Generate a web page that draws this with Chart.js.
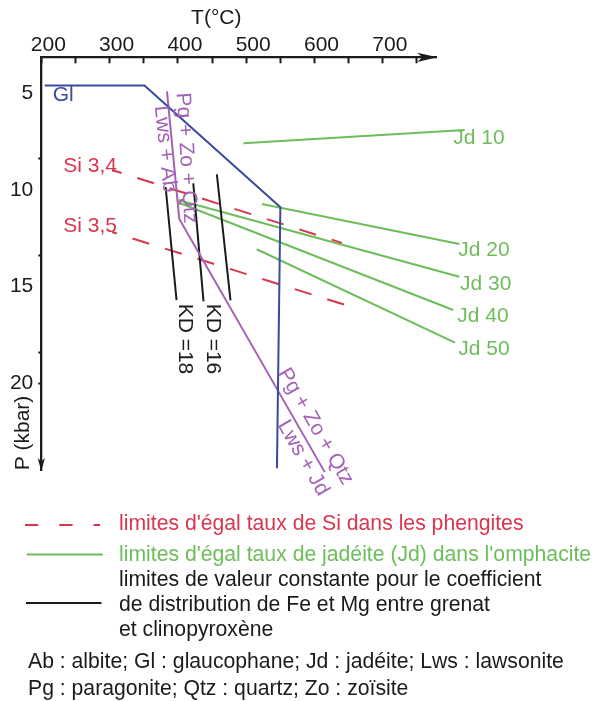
<!DOCTYPE html>
<html>
<head>
<meta charset="utf-8">
<script src="https://cdn.jsdelivr.net/npm/chart.js@4.4.1/dist/chart.umd.min.js"></script>
<style>
  html, body { margin: 0; padding: 0; background: #ffffff; }
  canvas { display: block; }
</style>
</head>
<body>
<canvas id="c" width="597" height="701"></canvas>
<script>
// ---------- axis ticks ----------
const TEMP_TICKS  = [200, 250, 300, 350, 400, 450, 500, 550, 600, 650, 700, 750];
const TEMP_LABELS = [200, 300, 400, 500, 600, 700];
const P_TICKS     = [5, 8.4, 10, 13.4, 15, 18.4, 20];
const P_LABELS    = [5, 10, 15, 20];
const P_UNMARKED  = [5, 10, 15];

// ---------- series (T in °C, P in kbar) ----------
const GL_T   = [205, 351, 550, 545];
const GL_P   = [4.6, 4.6, 10.9, 24.4];
const REAC_T = [384, 402, 615];
const REAC_P = [4.9, 11.5, 24.6];

const KD18_T = [382, 398];     const KD18_P = [9.85, 15.7];
const KD16_T = [422.5, 437.5]; const KD16_P = [9.66, 15.77];
const KDC_T  = [457, 477];     const KDC_P  = [9.19, 15.72];

const SI34_T = [303.5, 640];   const SI34_P = [8.97, 12.74];
const SI35_T = [303.5, 655];   const SI35_P = [12.18, 16.06];

const JD10_T = [496, 820];     const JD10_P = [7.59, 6.90];
const JD20_T = [523, 812];     const JD20_P = [10.73, 12.80];
const JD30_T = [400.6, 812];   const JD30_P = [10.52, 14.49];
const JD40_T = [400.6, 803];   const JD40_P = [10.65, 16.21];
const JD50_T = [515.4, 805.7]; const JD50_P = [13.07, 17.90];

// ---------- in-chart labels (anchored in T/P) ----------
const LABEL_TEXT = ['Gl', 'Si 3,4', 'Si 3,5', 'Jd 10', 'Jd 20', 'Jd 30', 'Jd 40', 'Jd 50',
                    'KD =18', 'KD =16', 'Pg + Zo + Qtz', 'Lws + Ab', 'Pg + Zo + Qtz', 'Lws + Jd'];
const LABEL_T    = [216.7, 232.2, 232.2, 803.2, 810.5, 813, 809, 810.5,
                    409.7, 451.8, 412.3, 381.1, 601.5, 583.2];
const LABEL_P    = [5.42, 9.07, 12.18, 7.64, 13.44, 15.18, 16.81, 18.54,
                    17.71, 17.71, 8.35, 7.88, 22.24, 23.87];

// ---------- legend / notes text ----------
const LEGEND_SI  = "limites d'égal taux de Si dans les phengites";
const LEGEND_JD  = "limites d'égal taux de jadéite (Jd) dans l'omphacite";
const LEGEND_KD  = ["limites de valeur constante pour le coefficient",
                    "de distribution de Fe et Mg entre grenat",
                    "et clinopyroxène"];
const NOTES      = ["Ab : albite; Gl : glaucophane; Jd : jadéite; Lws : lawsonite",
                    "Pg : paragonite; Qtz : quartz; Zo : zoïsite"];

// ---------- styles ----------
const FONT   = "'Liberation Sans', Arial, Helvetica, sans-serif";
const BLUE   = '#3a4a9f';
const PURPLE = '#a362b6';
const RED    = '#d8364f';
const GREEN  = '#6dbd5b';
const BLACK  = '#1b1b1b';

const pts = (T, P) => T.map((t, i) => ({ x: t, y: P[i] }));

function line(data, color, extra) {
  return Object.assign({
    data: data, borderColor: color, borderWidth: 2, pointRadius: 0,
    pointHoverRadius: 0, tension: 0, fill: false, clip: false, showLine: true
  }, extra || {});
}

const datasets = [
  line(pts(GL_T, GL_P), BLUE),
  line(pts(REAC_T, REAC_P), PURPLE),
  line(pts(KD18_T, KD18_P), BLACK),
  line(pts(KD16_T, KD16_P), BLACK),
  line(pts(KDC_T, KDC_P), BLACK),
  line(pts(SI34_T, SI34_P), RED, { borderDash: [17.5, 16.5], borderDashOffset: 7.5 }),
  line(pts(SI35_T, SI35_P), RED, { borderDash: [17.5, 16.5], borderDashOffset: 12.5 }),
  line(pts(JD10_T, JD10_P), GREEN),
  line(pts(JD20_T, JD20_P), GREEN),
  line(pts(JD30_T, JD30_P), GREEN),
  line(pts(JD40_T, JD40_P), GREEN),
  line(pts(JD50_T, JD50_P), GREEN)
];

// label styling (by index)
const LABEL_STYLE = [
  { c: BLUE,   r: 0,    a: 'left',   b: 'alphabetic' },
  { c: RED,    r: 0,    a: 'left',   b: 'alphabetic' },
  { c: RED,    r: 0,    a: 'left',   b: 'alphabetic' },
  { c: GREEN,  r: 0,    a: 'left',   b: 'alphabetic' },
  { c: GREEN,  r: 0,    a: 'left',   b: 'alphabetic' },
  { c: GREEN,  r: 0,    a: 'left',   b: 'alphabetic' },
  { c: GREEN,  r: 0,    a: 'left',   b: 'alphabetic' },
  { c: GREEN,  r: 0,    a: 'left',   b: 'alphabetic' },
  { c: BLACK,  r: 90,   a: 'center', b: 'middle' },
  { c: BLACK,  r: 90,   a: 'center', b: 'middle' },
  { c: PURPLE, r: 86.5, a: 'center', b: 'middle' },
  { c: PURPLE, r: 84,   a: 'center', b: 'middle' },
  { c: PURPLE, r: 60,   a: 'center', b: 'middle' },
  { c: PURPLE, r: 60,   a: 'center', b: 'middle' }
];

const decor = {
  id: 'decor',
  afterDatasetsDraw(chart) {
    const { ctx, chartArea, scales } = chart;
    const sx = scales.x, sy = scales.y;
    ctx.save();
    // arrowheads
    ctx.fillStyle = BLACK;
    const xr = chartArea.right + 1, yt = chartArea.top;
    ctx.beginPath();
    ctx.moveTo(xr, yt); ctx.lineTo(xr - 20, yt - 4.6); ctx.lineTo(xr - 15, yt); ctx.lineTo(xr - 20, yt + 4.6);
    ctx.closePath(); ctx.fill();
    const xl = chartArea.left, yb = chartArea.bottom + 1;
    ctx.beginPath();
    ctx.moveTo(xl, yb); ctx.lineTo(xl - 3.6, yb - 13); ctx.lineTo(xl, yb - 9.5); ctx.lineTo(xl + 3.6, yb - 13);
    ctx.closePath(); ctx.fill();

    // in-chart labels
    ctx.font = '21px ' + FONT;
    LABEL_TEXT.forEach((txt, i) => {
      const st = LABEL_STYLE[i];
      ctx.save();
      ctx.translate(sx.getPixelForValue(LABEL_T[i]), sy.getPixelForValue(LABEL_P[i]));
      ctx.rotate(st.r * Math.PI / 180);
      ctx.fillStyle = st.c;
      ctx.textAlign = st.a;
      ctx.textBaseline = st.b;
      ctx.fillText(txt, 0, 0);
      ctx.restore();
    });

    // axis titles
    ctx.fillStyle = BLACK;
    ctx.textAlign = 'center';
    ctx.textBaseline = 'middle';
    ctx.fillText('T(°C)', 216.3, 18.5);
    ctx.save();
    ctx.translate(23.3, 433);
    ctx.rotate(-Math.PI / 2);
    ctx.fillText('P (kbar)', 0, 0);
    ctx.restore();

    // legend
    ctx.lineWidth = 2;
    ctx.strokeStyle = RED;
    ctx.setLineDash([13.3, 21]);
    ctx.beginPath(); ctx.moveTo(25, 525); ctx.lineTo(100, 525); ctx.stroke();
    ctx.setLineDash([]);
    ctx.strokeStyle = GREEN;
    ctx.beginPath(); ctx.moveTo(26.7, 554.5); ctx.lineTo(102.7, 554.5); ctx.stroke();
    ctx.strokeStyle = BLACK;
    ctx.beginPath(); ctx.moveTo(26, 603); ctx.lineTo(101.5, 603); ctx.stroke();

    ctx.font = '21.2px ' + FONT;
    ctx.textAlign = 'left';
    ctx.textBaseline = 'alphabetic';
    ctx.fillStyle = RED;   ctx.fillText(LEGEND_SI, 119, 529.5);
    ctx.fillStyle = GREEN; ctx.fillText(LEGEND_JD, 119, 560.5);
    ctx.fillStyle = BLACK;
    ctx.fillText(LEGEND_KD[0], 119, 585.5);
    ctx.fillText(LEGEND_KD[1], 119, 610.5);
    ctx.fillText(LEGEND_KD[2], 119, 636);
    ctx.fillText(NOTES[0], 28, 667.5);
    ctx.fillText(NOTES[1], 28, 694.5);
    ctx.restore();
  }
};

new Chart(document.getElementById('c'), {
  type: 'line',
  data: { datasets: datasets },
  plugins: [decor],
  options: {
    responsive: false,
    animation: false,
    events: [],
    layout: { padding: { left: 0, top: 0, right: 160.7, bottom: 231 } },
    plugins: { legend: { display: false }, tooltip: { enabled: false } },
    scales: {
      x: {
        type: 'linear',
        position: 'top',
        min: 200,
        max: 778.3,
        afterBuildTicks: s => { s.ticks = TEMP_TICKS.map(v => ({ value: v })); },
        afterFit: s => { s.height = 57.3; },
        ticks: {
          autoSkip: false, maxRotation: 0, minRotation: 0,
          callback: v => TEMP_LABELS.includes(v) ? String(v) : '',
          labelOffset: 7, padding: 5.6,
          color: BLACK, font: { family: FONT, size: 21 }
        },
        grid: { drawOnChartArea: false, drawTicks: true, tickLength: -6, tickWidth: 2, tickColor: BLACK },
        border: { display: true, color: BLACK, width: 2.3 }
      },
      y: {
        type: 'linear',
        position: 'left',
        reverse: true,
        min: 3.14,
        max: 24.49,
        afterBuildTicks: s => { s.ticks = P_TICKS.map(v => ({ value: v })); },
        afterFit: s => { s.width = 41.3; },
        ticks: {
          autoSkip: false,
          callback: v => P_LABELS.includes(v) ? String(v) : '',
          padding: 5,
          color: BLACK, font: { family: FONT, size: 21 }
        },
        grid: {
          drawOnChartArea: false, drawTicks: true, tickLength: 3, tickWidth: 2,
          tickColor: c => (c.tick && P_UNMARKED.includes(c.tick.value)) ? 'rgba(0,0,0,0)' : BLACK
        },
        border: { display: true, color: BLACK, width: 2.3 }
      }
    }
  }
});
</script>
</body>
</html>
